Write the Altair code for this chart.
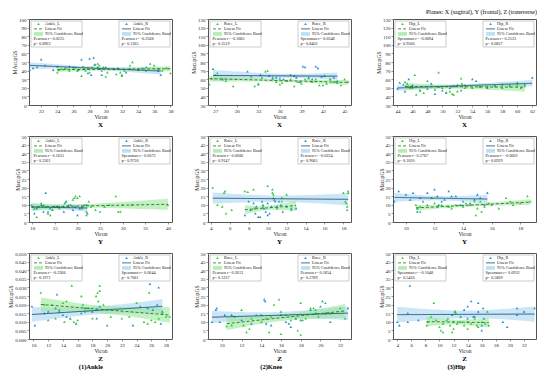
import numpy as np
import pandas as pd
import altair as alt

FONT = "Liberation Serif"
GREEN = "#33cc33"
BLUE = "#2a8fd4"
GREEN_BAND = "#8fe88f"
BLUE_BAND = "#9ed2f0"
GREEN_LINE = "#2f6a2f"
BLUE_LINE = "#1d4e6e"

# ---------------- data ----------------
# Row X
AX_L_X = [24.0,24.2,24.5,25.0,25.5,26.0,26.3,26.6,27.0,27.2,27.5,27.8,28.0,28.3,28.7,29.0,29.2,29.5,29.7,30.0,30.2,31.0,31.3,31.8,32.0,32.3,33.0,33.3,34.0,34.5,35.0,35.5,36.0,36.5,37.0,37.5,38.0]
AX_L_Y = [38,41,42,43,40,42,44,41,34,45,40,43,38,44,47,48,46,40,44,33,38,42,36,38,34,40,46,50,42,43,40,48,46,42,40,43,37]
AX_R_X = [20.6,21.0,21.5,22.0,22.5,23.5,24.0,25.0,25.5,26.0,26.5,27.0,27.3,27.8,28.0,28.2,28.5,28.6,29.0,29.3,29.5,30.0,31.0,31.5,32.0,32.5,33.0,34.0,35.0,36.5,36.8]
AX_R_Y = [41,43,44,53,46,41,45,43,45,44,40,53,42,37,54,35,55,47,44,42,35,44,42,43,35,38,42,41,44,40,35]

KX_L_X = [26.2,26.5,27.0,27.3,28.0,28.5,29.5,32.0,32.5,33.0,33.5,34.0,34.3,35.0,35.5,36.0,36.3,37.0,37.5,38.0,38.5,39.0,39.5,40.0,40.5,41.0,41.5,42.0,42.5,43.0,43.5,44.0,44.5,45.0,45.5]
KX_L_Y = [54,61,65,67,60,58,52,63,52,55,62,69,70,60,57,54,56,58,60,52,57,55,60,61,57,60,53,53,55,60,57,58,53,60,57]
KX_R_X = [26.7,28.0,31.5,33.0,33.3,34.5,35.0,35.5,36.0,36.5,37.0,37.5,38.0,38.3,38.8,39.2,39.5,40.0,40.5,41.0,41.3,41.8,42.2,43.0,43.5,44.0]
KX_R_Y = [72,60,69,54,65,64,62,62,61,60,58,65,64,62,57,75,74,62,60,75,73,63,64,60,62,56]

HX_L_X = [45.0,45.3,45.5,45.7,46.0,46.3,46.5,47.0,47.5,48.0,49.0,49.5,50.0,50.5,51.0,51.3,51.5,52.0,52.5,52.6,53.0,54.0,55.0,56.0,57.0,58.0,59.0,60.0,60.5,61.0]
HX_L_Y = [57,55,52,50,50,65,42,47,44,58,48,68,50,45,46,43,42,46,61,55,50,50,51,51,52,50,53,53,50,52]
HX_R_X = [44.0,44.3,44.8,45.0,45.5,46.0,47.0,48.0,48.5,49.0,49.5,50.0,50.5,51.0,51.5,52.0,52.5,53.0,54.0,54.5,55.0,56.0,57.0,58.0,59.0,60.0,61.0,62.0]
HX_R_Y = [49,56,54,46,60,53,47,49,55,43,51,47,44,50,52,53,47,53,60,58,52,50,53,54,52,56,54,62]

# Row Y
AY_L_X = [9.8,10.5,11.0,11.5,12.0,12.5,13.0,13.5,14.0,14.5,15.0,16.0,17.0,17.5,18.0,19.0,19.3,19.6,20.0,20.5,21.0,21.5,22.0,22.0,22.5,23.0,24.0,25.0,26.0,27.0,28.5,29.0,29.5,30.0,32.0,40.0]
AY_L_Y = [10,8,3,9,11,10,9,6,4,7,9,8,9,12,10,13,14,15,14,15,8,10,4,6,12,9,7,6,9,10,15,6,6,10,10,10]
AY_R_X = [10.0,10.5,11.0,12.0,12.5,13.0,13.5,14.0,14.5,15.0,15.5,16.0,17.0,17.2,17.5,18.0,18.5,19.0,19.5,20.0,20.5,21.0,22.0,22.2]
AY_R_Y = [9,5,8,10,6,17,5,8,7,9,9,9,6,11,12,9,10,7,9,4,8,9,10,5]

KY_L_X = [4.2,4.7,5.2,5.4,5.5,5.6,6.2,7.6,7.9,8.5,8.6,9.5,10.0,10.5,10.5,10.6,10.6,11.0,11.5,11.5,12.0,12.5,18.0,18.2,18.3,18.4,18.4,18.5,18.5]
KY_L_Y = [20,10,9,17,18,5,7,18,17.5,19,8,9,21,19,17,16,14,8,14,12,16,7,17,12,11,9,7,17,18]
KY_R_X = [7.6,8.0,8.2,8.5,8.7,8.8,9.0,9.2,9.4,9.5,9.6,9.8,10.0,10.0,10.2,10.4,10.7,10.8,11.0,11.2,11.4,11.6,12.0,12.5,13.0]
KY_R_Y = [4,12,7,11,5,9,3,3,12,10,8,6,11,4,5,9,13,12,9,12,10,6,9,8,8]

HY_L_X = [10.7,10.8,11.0,11.0,11.5,12.0,12.2,12.5,13.0,13.2,13.5,14.0,14.2,14.5,14.8,14.9,15.0,15.2,15.3,15.5,15.8,16.0,16.5,17.0,17.3,17.5,18.0,18.5,18.7]
HY_L_Y = [10,8,6,9,10,11,9,10,9,8,10,9,11,10,12,4,8,12,6,9,11,10,8,14,12,10,11,15,12]
HY_R_X = [9.2,9.5,10.0,10.3,10.5,10.8,11.0,11.2,11.5,11.8,12.0,12.2,12.3,12.5,12.7,13.0,13.2,13.5,13.8,14.0,14.5,14.8,15.0,15.2,15.5,15.7]
HY_R_Y = [12,18,16,13,17,6,14,12,17,14,19,15,10,12,13,18,15,15,10,12,11,13,16,14,10,17]

# Row Z
AZ_L_X = [11.0,11.5,12.0,12.5,13.0,13.5,14.0,14.2,14.5,15.0,15.2,15.5,16.0,16.5,16.7,17.0,17.5,18.0,18.5,18.7,18.8,19.0,19.0,19.5,20.0,20.5,22.0,23.0,24.0,25.0,25.5,25.7,26.0,26.5,27.0,27.5,28.0,28.5]
AZ_L_Y = [0.027,0.020,0.011,0.020,0.012,0.017,0.021,0.010,0.022,0.012,0.031,0.010,0.011,0.025,0.020,0.016,0.018,0.012,0.025,0.027,0.022,0.031,0.028,0.020,0.008,0.013,0.012,0.013,0.021,0.010,0.009,0.027,0.011,0.010,0.012,0.015,0.013,0.013]
AZ_R_X = [9.8,10.2,11.5,12.0,13.0,13.2,13.5,14.0,14.5,15.0,15.8,16.5,17.0,18.0,18.5,18.6,19.0,23.5,24.5,25.5,25.8,26.2,26.8,27.0,27.3,27.5]
AZ_R_Y = [0.019,0.008,0.015,0.016,0.018,0.026,0.016,0.014,0.013,0.012,0.009,0.015,0.018,0.016,0.017,0.012,0.019,0.008,0.019,0.018,0.032,0.017,0.020,0.030,0.009,0.016]

KZ_L_X = [10.5,11.0,11.3,12.0,12.2,12.5,12.8,13.0,13.5,14.0,14.5,14.8,15.0,15.3,15.8,16.0,16.0,16.5,17.0,17.5,17.7,18.0,18.0,18.2,18.5,19.0,19.3,19.5,19.8,20.5,21.0,22.0,22.5]
KZ_L_Y = [7.5,8,13,17,8,4,6,12,14,10,12,4,13,20,23,3,16,14,11,12,5,21,2.5,11,12,18,18,17,13,21,15,18,12]
KZ_R_X = [9.0,9.4,9.5,9.8,10.3,11.0,12.0,13.0,14.0,14.3,14.4,14.5,15.0,16.0,16.5,16.8,17.0,17.5,18.0,19.0,19.5,20.0,20.2,20.5,21.0,22.8]
KZ_R_Y = [10,17,18,10,14,14,11,9,14,23,22,9,8,14,10,9,7,12,11,17,15,19,22,15,10,18]

HZ_L_X = [8.2,8.3,8.8,9.2,9.5,10.0,10.2,10.5,10.5,11.0,11.2,11.5,11.8,12.0,12.0,12.2,12.3,12.5,13.0,13.0,13.5,14.0,14.0,14.5,15.0,15.3,15.5,16.0,16.5,16.8,17.0]
HZ_L_Y = [8,10,13,21,11,7,5,4,9,11,12,8,4,10,6,16,15,9,10,13,8,10,6,9,12,8,7,10,9,16,8]
HZ_R_X = [4.0,4.3,5.5,5.5,5.8,7.0,11.8,12.2,13.0,13.5,14.0,14.0,14.5,14.8,15.0,15.5,15.5,16.0,16.0,16.2,16.3,19.0,19.6,21.0,21.0,22.0,23.5]
HZ_R_Y = [10,8,15,10,31,11,14,16,13,17,19,12,22,13,13,21,16,5,8,18,12,10,7,18,14,16,18]

W, H = 143, 86


def fit_band(xs, ys, n=40):
    x = np.asarray(xs, float)
    y = np.asarray(ys, float)
    b, a = np.polyfit(x, y, 1)
    g = np.linspace(x.min(), x.max(), n)
    yhat = a + b * g
    res = y - (a + b * x)
    df = len(x) - 2
    s = np.sqrt((res ** 2).sum() / df)
    sxx = ((x - x.mean()) ** 2).sum()
    t = 1.96 + 2.5 / df
    se = s * np.sqrt(1.0 / len(x) + (g - x.mean()) ** 2 / sxx)
    return pd.DataFrame({"x": g, "fit": yhat, "lo": yhat - t * se, "hi": yhat + t * se})


def txt(base, s, x, y):
    return base.mark_text(text=s, align="left", baseline="middle", fontSize=4.2,
                          font=FONT, color="#222").encode(x=alt.value(x), y=alt.value(y))


def legend_layers(side, name, stats, pt_color, shape, line_color, dash, band_color):
    x0 = 2 if side == "L" else W - 53
    base = alt.Chart(pd.DataFrame({"k": [0]}))
    rows = [4.9, 9.9, 14.9, 19.9, 24.9]
    out = [
        base.mark_rect(fill="white", fillOpacity=0.9, stroke="#9a9a9a", strokeWidth=0.5).encode(
            x=alt.value(x0), x2=alt.value(x0 + 51), y=alt.value(2), y2=alt.value(28)),
        base.mark_point(shape=shape, filled=True, size=7, color=pt_color, opacity=1).encode(
            x=alt.value(x0 + 7.5), y=alt.value(rows[0])),
        base.mark_rule(color=line_color, strokeWidth=0.8, strokeDash=dash).encode(
            x=alt.value(x0 + 3), x2=alt.value(x0 + 12), y=alt.value(rows[1])),
        base.mark_rect(color=band_color, opacity=0.7).encode(
            x=alt.value(x0 + 3), x2=alt.value(x0 + 12), y=alt.value(rows[2] - 1.8), y2=alt.value(rows[2] + 1.8)),
        txt(base, name, x0 + 14, rows[0]),
        txt(base, "Linear Fit", x0 + 14, rows[1]),
        txt(base, "95% Confidence Band", x0 + 14, rows[2]),
        txt(base, stats[0], x0 + 2.5, rows[3]),
        txt(base, stats[1], x0 + 2.5, rows[4]),
    ]
    return out


def panel(p):
    xscale = alt.Scale(domain=p["xdom"], nice=False, zero=False)
    yscale = alt.Scale(domain=p["ydom"], nice=False, zero=False)
    xax = alt.Axis(values=p["xticks"], format="d", title="Vicon")
    yax = alt.Axis(values=p["yticks"], format=p.get("yfmt", "d"), title=p["ytitle"])
    X = alt.X("x:Q", scale=xscale, axis=xax)
    dL = pd.DataFrame({"x": p["L"][0], "y": p["L"][1]})
    dR = pd.DataFrame({"x": p["R"][0], "y": p["R"][1]})
    fL = fit_band(*p["L"])
    fR = fit_band(*p["R"])
    swap = p.get("swap", False)
    cL_band, cL_line, dashL = (BLUE_BAND, BLUE_LINE, [1, 0]) if swap else (GREEN_BAND, GREEN_LINE, [3, 2])
    cR_band, cR_line, dashR = (GREEN_BAND, GREEN_LINE, [3, 2]) if swap else (BLUE_BAND, BLUE_LINE, [1, 0])

    def Y(f):
        return alt.Y(f, scale=yscale, axis=yax)

    layers = [
        alt.Chart(fR).mark_area(color=cR_band, opacity=0.55).encode(x=X, y=Y("lo:Q"), y2="hi:Q"),
        alt.Chart(fL).mark_area(color=cL_band, opacity=0.55).encode(x=X, y=Y("lo:Q"), y2="hi:Q"),
        alt.Chart(dR).mark_point(shape="triangle-up", filled=True, size=7, color=BLUE, opacity=1).encode(x=X, y=Y("y:Q")),
        alt.Chart(dL).mark_point(shape="triangle-up", filled=True, size=7, color=GREEN, opacity=1).encode(x=X, y=Y("y:Q")),
        alt.Chart(fR).mark_line(color=cR_line, strokeWidth=0.9, strokeDash=dashR).encode(x=X, y=Y("fit:Q")),
        alt.Chart(fL).mark_line(color=cL_line, strokeWidth=0.9, strokeDash=dashL).encode(x=X, y=Y("fit:Q")),
    ]
    layers += legend_layers("L", p["names"][0], p["Lstat"], GREEN, "triangle-up", GREEN_LINE, [3, 2], GREEN_BAND)
    layers += legend_layers("R", p["names"][1], p["Rstat"], BLUE, "triangle-up", BLUE_LINE, [1, 0], BLUE_BAND)
    return alt.layer(*layers).properties(
        width=W, height=H,
        title=alt.TitleParams(p["plane"], orient="bottom", anchor="middle", fontSize=7, fontWeight="bold",
                              font=FONT, offset=1))


Y50 = list(range(0, 51, 5))
Y130 = list(range(30, 131, 10))
ZF = [round(0.005 * i, 3) for i in range(11)]

ANK = [
    dict(plane="X", xdom=[20.5, 38.2], xticks=list(range(22, 39, 2)), ydom=[0, 100], yticks=list(range(0, 101, 10)),
         ytitle="MAcupGS", L=(AX_L_X, AX_L_Y), R=(AX_R_X, AX_R_Y), names=["Ankle_L", "Ankle_R"],
         Lstat=["Pearson r= 0.0225", "p= 0.8963"], Rstat=["Pearson r= -0.2568", "p= 0.1365"]),
    dict(plane="Y", xdom=[9.3, 40.9], xticks=list(range(10, 41, 5)), ydom=[0, 50], yticks=Y50,
         ytitle="MacupGS", L=(AY_L_X, AY_L_Y), R=(AY_R_X, AY_R_Y), names=["Ankle_L", "Ankle_R"],
         Lstat=["Pearson r= 0.1651", "p= 0.3361"], Rstat=["Spearman r= 0.0072", "p= 0.9726"]),
    dict(plane="Z", xdom=[9.4, 28.8], xticks=list(range(10, 29, 2)), ydom=[0, 0.05], yticks=ZF, yfmt=".3f",
         ytitle="MacupGS", L=(AZ_L_X, AZ_L_Y), R=(AZ_R_X, AZ_R_Y), names=["Ankle_L", "Ankle_R"],
         Lstat=["Pearson r= -0.2366", "p= 0.1971"], Rstat=["Spearman r= 0.0644", "p= 0.7061"]),
]
KNE = [
    dict(plane="X", xdom=[26.0, 45.9], xticks=list(range(27, 46, 3)), ydom=[30, 130], yticks=Y130,
         ytitle="MacupGS", L=(KX_L_X, KX_L_Y), R=(KX_R_X, KX_R_Y), names=["Knee_L", "Knee_R"],
         Lstat=["Pearson r= -0.1685", "p= 0.3519"], Rstat=["Spearman r= 0.0348", "p= 0.8402"]),
    dict(plane="Y", xdom=[3.7, 18.8], xticks=list(range(4, 19, 2)), ydom=[0, 50], yticks=Y50,
         ytitle="MacupGS", L=(KY_L_X, KY_L_Y), R=(KY_R_X, KY_R_Y), names=["Knee_L", "Knee_R"], swap=True,
         Lstat=["Pearson r= 0.0006", "p= 0.9147"], Rstat=["Pearson r= -0.0234", "p= 0.9065"]),
    dict(plane="Z", xdom=[8.6, 23.1], xticks=list(range(10, 23, 2)), ydom=[0, 50], yticks=Y50,
         ytitle="MacupGS", L=(KZ_L_X, KZ_L_Y), R=(KZ_R_X, KZ_R_Y), names=["Knee_L", "Knee_R"],
         Lstat=["Pearson r= 0.2613", "p= 0.1237"], Rstat=["Pearson r= 0.1854", "p= 0.2789"]),
]
HIP = [
    dict(plane="X", xdom=[43.4, 62.5], xticks=list(range(44, 63, 2)), ydom=[30, 130], yticks=Y130,
         ytitle="MacupGS", L=(HX_L_X, HX_L_Y), R=(HX_R_X, HX_R_Y), names=["Hip_L", "Hip_R"],
         Lstat=["Spearman r= -0.0094", "p= 0.9566"], Rstat=["Pearson r= 0.2523", "p= 0.0837"]),
    dict(plane="Y", xdom=[9.1, 19.1], xticks=list(range(10, 19, 2)), ydom=[0, 50], yticks=Y50,
         ytitle="MacupGS", L=(HY_L_X, HY_L_Y), R=(HY_R_X, HY_R_Y), names=["Hip_L", "Hip_R"],
         Lstat=["Pearson r= 0.2767", "p= 0.1020"], Rstat=["Pearson r= -0.0602", "p= 0.6929"]),
    dict(plane="Z", xdom=[3.4, 23.7], xticks=list(range(4, 23, 2)), ydom=[0, 50], yticks=Y50,
         ytitle="MacupGS", L=(HZ_L_X, HZ_L_Y), R=(HZ_R_X, HZ_R_Y), names=["Hip_L", "Hip_R"],
         Lstat=["Spearman r= -0.1048", "p= 0.5430"], Rstat=["Spearman r= 0.0932", "p= 0.5809"]),
]


def column(panels, label):
    return alt.vconcat(*[panel(p) for p in panels], spacing=5).properties(
        title=alt.TitleParams(label, orient="bottom", anchor="middle", fontSize=6.5, fontWeight="bold",
                              font=FONT, offset=2))


chart = alt.hconcat(
    alt.hconcat(column(ANK, "(1)Ankle"), column(KNE, "(2)Knee"), spacing=17),
    column(HIP, "(3)Hip"), spacing=24,
).properties(
    padding=0,
    title=alt.TitleParams("Planes: X (sagittal), Y (frontal), Z (transverse)", anchor="end",
                          fontSize=6, fontWeight="normal", font=FONT, offset=2),
).configure_view(stroke="#555555", strokeWidth=1).configure_axis(
    labelFont=FONT, titleFont=FONT, labelFontSize=5, titleFontSize=5.5, titleFontWeight="normal",
    tickSize=2, labelPadding=1, titlePadding=1, grid=False, domain=False, tickColor="#555555",
    labelColor="#222222", titleColor="#222222", tickWidth=0.6,
)

chart.save("out.html", embed_options={"renderer": "svg", "actions": False})
